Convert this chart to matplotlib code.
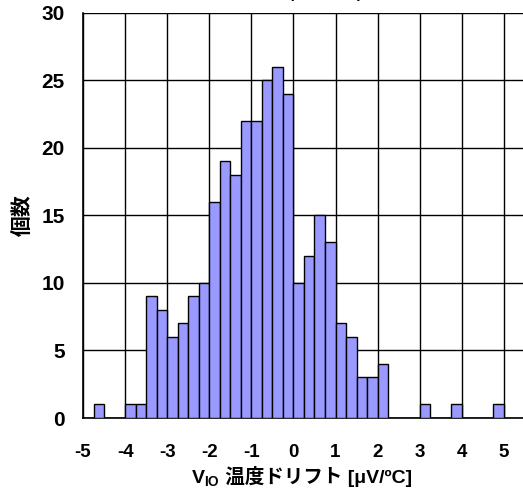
import matplotlib.pyplot as plt
import numpy as np
from matplotlib.offsetbox import AnchoredOffsetbox, HPacker, TextArea

plt.rcParams['font.family'] = ['Liberation Sans', 'Noto Sans CJK JP', 'DejaVu Sans']
plt.rcParams['font.weight'] = 'bold'
plt.rcParams['axes.unicode_minus'] = False
plt.rcParams['mathtext.fontset'] = 'custom'
plt.rcParams['mathtext.rm'] = 'Liberation Sans:bold'
plt.rcParams['mathtext.it'] = 'Liberation Sans:bold'
plt.rcParams['mathtext.bf'] = 'Liberation Sans:bold'

# ヒストグラムの各ビン（幅0.25）の左端と個数
bin_left = np.arange(-5.0, 5.0, 0.25)
counts = [0, 1, 0, 0, 1, 1, 9, 8, 6, 7, 9, 10, 16, 19, 18, 22, 22, 25, 26, 24,
          10, 12, 15, 13, 7, 6, 3, 3, 4, 0, 0, 0, 1, 0, 0, 1, 0, 0, 0, 1]
x_ticks = [-5, -4, -3, -2, -1, 0, 1, 2, 3, 4, 5]
y_ticks = [0, 5, 10, 15, 20, 25, 30]

fig = plt.figure(figsize=(5.23, 4.92), dpi=100)
ax = fig.add_axes([0.1587, 0.1504, 0.845, 0.824])

ax.bar(bin_left, counts, width=0.25, align='edge', color='#9999ff',
       edgecolor='black', linewidth=1.0, zorder=3)

ax.set_xlim(-5, 5.5)
ax.set_ylim(0, 30)
ax.set_xticks(x_ticks)
ax.set_yticks(y_ticks)
ax.grid(True, color='black', linewidth=1.0, zorder=0)
ax.set_axisbelow(True)
ax.tick_params(length=0)
ax.tick_params(axis='y', pad=13, labelsize=15)
ax.tick_params(axis='x', pad=19, labelsize=13.5)
for s in ['top', 'right']:
    ax.spines[s].set_visible(False)
for s in ['left', 'bottom']:
    ax.spines[s].set_linewidth(1.2)

ax.set_ylabel('個数', fontsize=15, fontweight='bold', labelpad=6)

# x軸ラベル（下付き文字と日本語を分けて並べる）
part1 = TextArea('V$_{IO}$', textprops=dict(fontsize=14, fontweight='bold'))
part2 = TextArea(' 温度ドリフト [μV/ºC]', textprops=dict(fontsize=14, fontweight='bold'))
xlabel = HPacker(children=[part1, part2], align='baseline', pad=0, sep=0)
box = AnchoredOffsetbox(loc='lower center', child=xlabel, frameon=False, pad=0,
                        borderpad=0, bbox_to_anchor=(302 / 523, 4 / 492),
                        bbox_transform=fig.transFigure)
fig.add_artist(box)

# 上端で切れているタイトル
fig.text(325 / 523, 1.0 + 2 / 492, '(V$_{CM}$ = 0V)', fontsize=11,
         ha='center', va='baseline')

fig.savefig('out.png', dpi=100)
